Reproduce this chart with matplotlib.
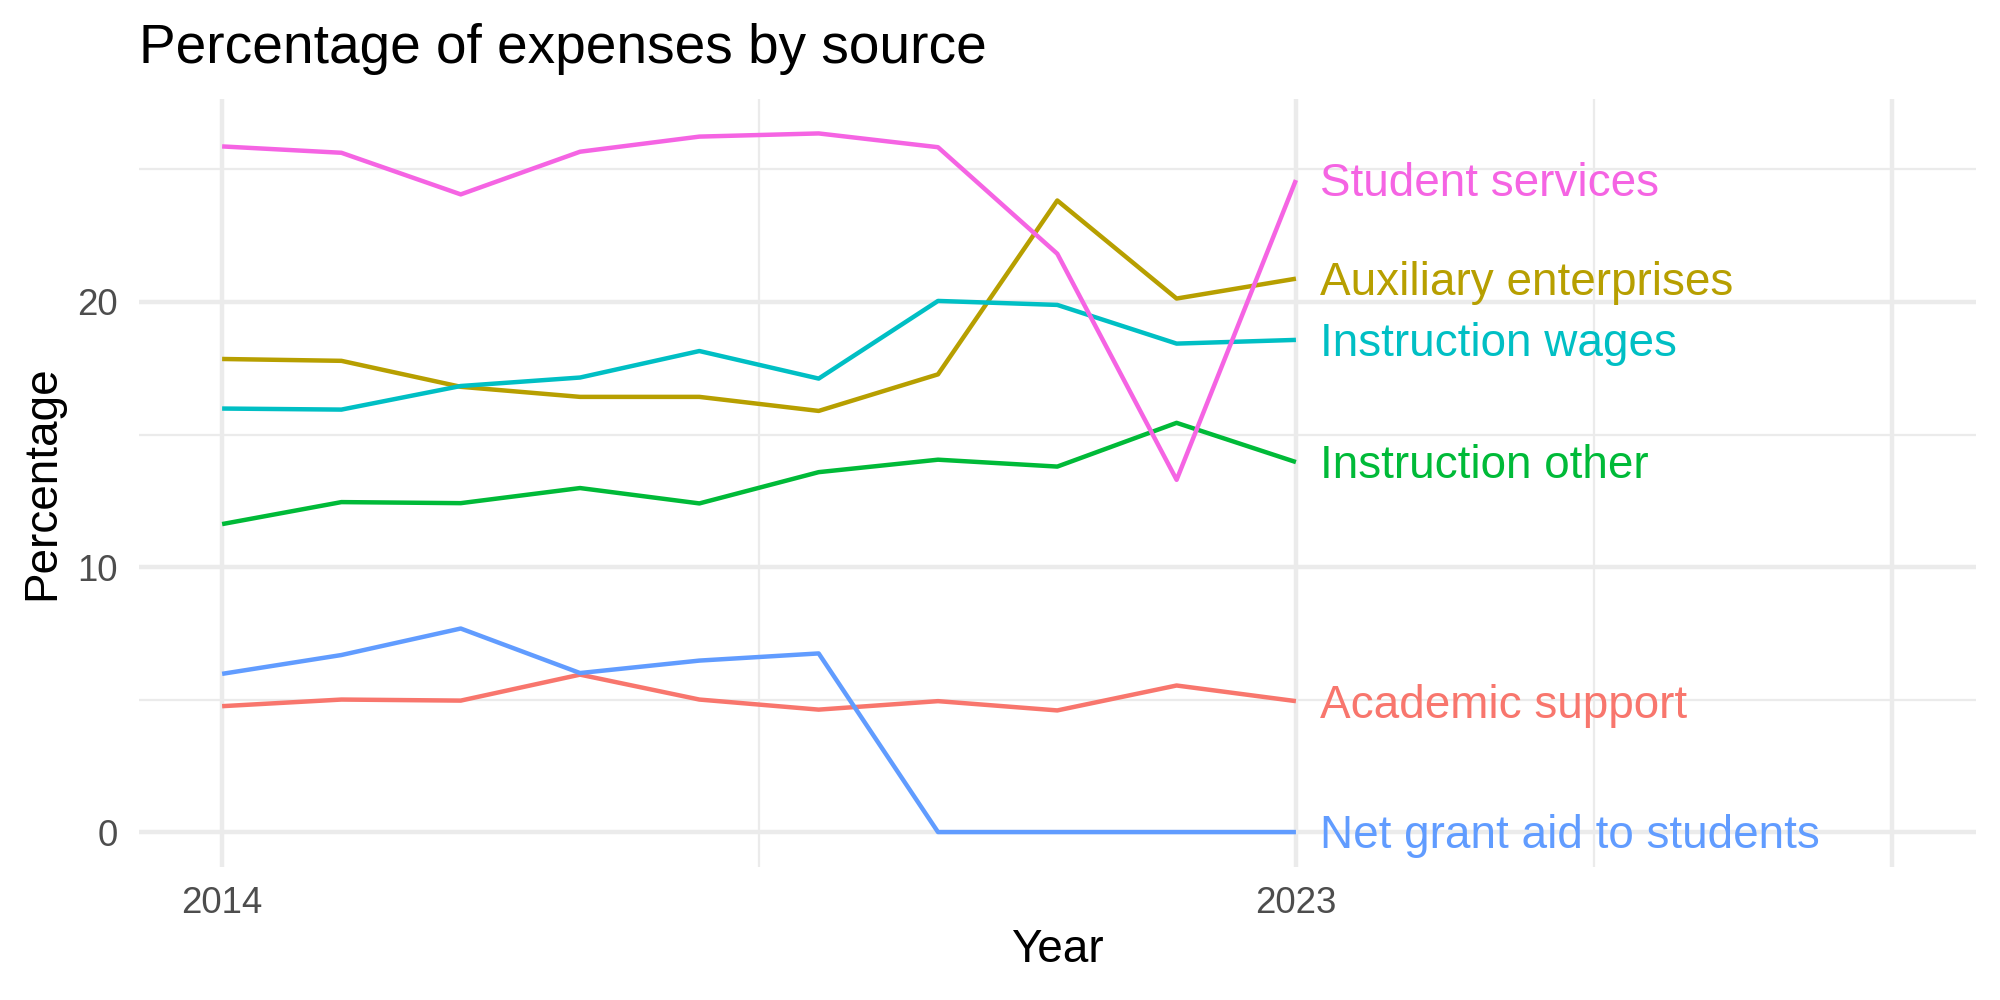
import matplotlib
matplotlib.use('Agg')
import matplotlib.pyplot as plt

plt.rcParams['font.family'] = ['Liberation Sans', 'DejaVu Sans']

# Datos
years = [2014, 2015, 2016, 2017, 2018, 2019, 2020, 2021, 2022, 2023]

academic_support = [4.75, 5.0, 4.96, 5.94, 5.0, 4.62, 4.94, 4.59, 5.53, 4.94]
auxiliary_enterprises = [17.85, 17.78, 16.8, 16.42, 16.42, 15.89, 17.27, 23.83, 20.13, 20.88]
instruction_other = [11.62, 12.45, 12.41, 12.98, 12.4, 13.58, 14.05, 13.79, 15.44, 13.96]
instruction_wages = [15.98, 15.94, 16.83, 17.15, 18.15, 17.11, 20.04, 19.89, 18.43, 18.57]
net_grant_aid = [5.97, 6.68, 7.68, 6.0, 6.47, 6.74, 0, 0, 0, 0]
student_services = [25.87, 25.63, 24.06, 25.67, 26.24, 26.36, 25.84, 21.82, 13.29, 24.6]

sources = ['Academic support', 'Auxiliary enterprises', 'Instruction other',
           'Instruction wages', 'Net grant aid to students', 'Student services']
series = [academic_support, auxiliary_enterprises, instruction_other,
          instruction_wages, net_grant_aid, student_services]
colors = ['#F8766D', '#B79F00', '#00BA38', '#00BFC4', '#619CFF', '#F564E3']

x_breaks = [2014, 2023, 2028]
x_labels = ['2014', '2023', '']
x_minor = [2018.5, 2025.5]
y_breaks = [0, 10, 20]
y_minor = [5, 15, 25]

fig = plt.figure(figsize=(2000 / 300, 1000 / 300), dpi=300)
ax = fig.add_axes([0.0693, 0.133, 0.988 - 0.0693, 0.9015 - 0.133])

for name, values, color in zip(sources, series, colors):
    ax.plot(years, values, color=color, lw=1.07, solid_capstyle='butt', zorder=3)
    ax.annotate(name, xy=(years[-1] + 0.2, values[-1]), xytext=(0, -3.94),
                textcoords='offset points', ha='left', va='baseline',
                color=color, fontsize=11, zorder=4)

# limites estilo ggplot (expansion 5%)
ymax = max(max(s) for s in series)
ax.set_xlim(2014 - 0.05 * 14, 2028 + 0.05 * 14)
ax.set_ylim(-0.05 * ymax, ymax * 1.05)

ax.set_xticks(x_breaks)
ax.set_xticklabels(x_labels)
ax.set_xticks(x_minor, minor=True)
ax.set_yticks(y_breaks)
ax.set_yticks(y_minor, minor=True)

ax.grid(which='major', color='#EBEBEB', lw=1.07, zorder=0)
ax.grid(which='minor', color='#EBEBEB', lw=0.53, zorder=0)
for s in ax.spines.values():
    s.set_visible(False)
ax.tick_params(which='both', length=0)
ax.tick_params(axis='x', labelsize=8.8, labelcolor='#4D4D4D', pad=4.5)
ax.tick_params(axis='y', labelsize=8.8, labelcolor='#4D4D4D', pad=5)

fig.text(0.0693, 1 - 63 / 1000, 'Percentage of expenses by source',
         fontsize=13.2, ha='left', va='baseline', color='black')
fig.text(0.5285, 1 - 962 / 1000, 'Year', fontsize=11, ha='center', va='baseline')
fig.text(0.021, 0.517, 'Percentage', fontsize=11, rotation=90, ha='center', va='center')

fig.savefig('out.png', dpi=300, facecolor='white')
